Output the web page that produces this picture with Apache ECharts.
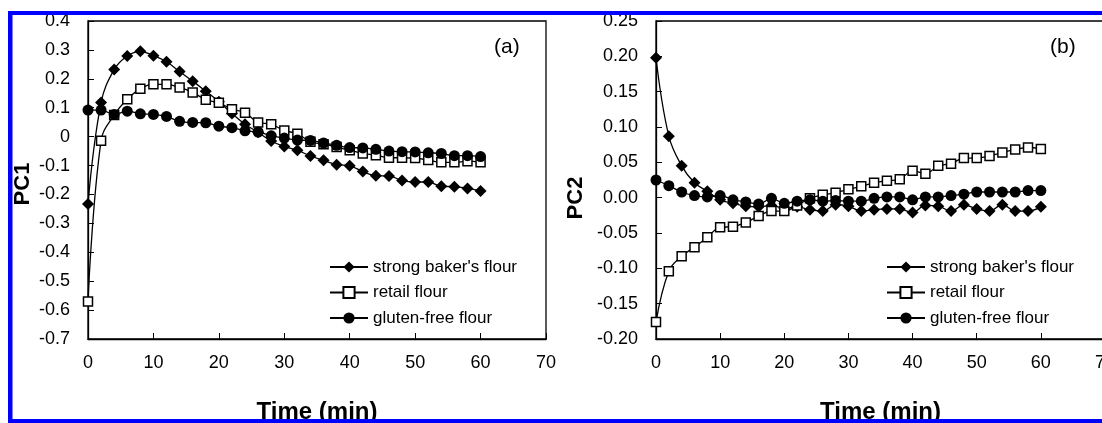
<!DOCTYPE html>
<html>
<head>
<meta charset="utf-8">
<script src="https://cdn.jsdelivr.net/npm/echarts@6/dist/echarts.min.js"></script>
<style>
html,body{margin:0;padding:0;background:#fff;}
#chart{width:1102px;height:423px;}
</style>
</head>
<body>
<div id="chart"></div>
<script>
const seriesNames = ["strong baker's flour", "retail flour", "gluten-free flour"];
const time = [0,2,4,6,8,10,12,14,16,18,20,22,24,26,28,30,32,34,36,38,40,42,44,46,48,50,52,54,56,58,60];
const xTickLabels = ['0','10','20','30','40','50','60','70'];
const pc1TickLabels = ['0.4','0.3','0.2','0.1','0','-0.1','-0.2','-0.3','-0.4','-0.5','-0.6','-0.7'];
const pc2TickLabels = ['0.25','0.20','0.15','0.10','0.05','0.00','-0.05','-0.10','-0.15','-0.20'];

const pc1Strong = [-0.233,0.118,0.232,0.279,0.295,0.280,0.259,0.225,0.192,0.157,0.121,0.080,0.043,0.015,-0.015,-0.034,-0.047,-0.067,-0.082,-0.097,-0.101,-0.121,-0.135,-0.136,-0.152,-0.157,-0.157,-0.172,-0.173,-0.179,-0.188];
const pc1Retail = [-0.570,-0.014,0.075,0.129,0.166,0.181,0.181,0.170,0.153,0.128,0.117,0.095,0.083,0.049,0.043,0.021,0.010,-0.018,-0.026,-0.036,-0.047,-0.058,-0.064,-0.073,-0.073,-0.074,-0.081,-0.089,-0.089,-0.085,-0.089];
const pc1Gluten = [0.092,0.092,0.077,0.088,0.079,0.077,0.070,0.053,0.049,0.048,0.036,0.031,0.020,0.016,0.003,-0.005,-0.012,-0.013,-0.022,-0.030,-0.038,-0.039,-0.044,-0.050,-0.052,-0.053,-0.056,-0.058,-0.066,-0.066,-0.069];

const pc2Strong = [0.198,0.087,0.045,0.021,0.009,-0.003,-0.008,-0.012,-0.013,-0.011,-0.015,-0.013,-0.017,-0.019,-0.010,-0.012,-0.019,-0.017,-0.016,-0.016,-0.021,-0.011,-0.012,-0.019,-0.010,-0.016,-0.019,-0.010,-0.019,-0.019,-0.013];
const pc2Retail = [-0.176,-0.104,-0.083,-0.070,-0.056,-0.042,-0.041,-0.035,-0.026,-0.019,-0.019,-0.011,-0.001,0.004,0.007,0.012,0.016,0.021,0.024,0.026,0.038,0.034,0.045,0.048,0.056,0.056,0.059,0.064,0.068,0.071,0.069];
const pc2Gluten = [0.025,0.017,0.008,0.003,0.001,0.003,-0.003,-0.006,-0.009,-0.001,-0.008,-0.005,-0.003,-0.005,-0.004,-0.005,-0.005,-0.001,0.001,0.001,-0.003,0.001,0.001,0.003,0.005,0.008,0.008,0.008,0.008,0.010,0.010];

const FONT = 'Liberation Sans, Arial, sans-serif';
const pairs = (ys) => time.map((t, i) => [t, ys[i]]);
const lookup = (labels, min, step) => (v) => labels[labels.length - 1 - Math.round((v - min) / step)];

const styles = [
  {symbol: 'diamond', symbolSize: 12, itemStyle: {color: '#000', borderWidth: 0}},
  {symbol: 'rect', symbolSize: 9, itemStyle: {color: '#fff', borderColor: '#000', borderWidth: 1.5}},
  {symbol: 'circle', symbolSize: 11, itemStyle: {color: '#000', borderWidth: 0}}
];

function mkSeries(idx, data) {
  return data.map((ys, k) => Object.assign({
    type: 'line', name: seriesNames[k], xAxisIndex: idx, yAxisIndex: idx,
    data: pairs(ys), smooth: 0.4, clip: false,
    lineStyle: {color: '#000', width: 1.3},
    emphasis: {disabled: true}, z: 2 + k
  }, styles[k]));
}

function xAx(idx) {
  return {
    type: 'value', gridIndex: idx, min: 0, max: 70, interval: 10,
    axisLine: {onZero: false, lineStyle: {color: '#000', width: 1.3}},
    axisTick: {inside: true, length: 6, lineStyle: {color: '#000'}},
    axisLabel: {margin: 15, color: '#000', fontSize: 18, fontFamily: FONT, formatter: (v) => xTickLabels[Math.round(v / 10)]},
    splitLine: {show: false},
    name: 'Time (min)', nameLocation: 'middle', nameGap: 61,
    nameTextStyle: {fontSize: 24, fontWeight: 'bold', color: '#000', fontFamily: FONT}
  };
}
function yAx(idx, min, max, step, labels, name, gap, pad) {
  return {
    type: 'value', gridIndex: idx, min: min, max: max, interval: step,
    axisLine: {show: true, onZero: false, lineStyle: {color: '#000', width: 1.3}},
    axisTick: {show: true, inside: true, length: 6, lineStyle: {color: '#000'}},
    axisLabel: {margin: 18, color: '#000', fontSize: 18, fontFamily: FONT, formatter: lookup(labels, min, step)},
    splitLine: {show: false},
    name: name, nameLocation: 'middle', nameGap: gap, nameRotate: 90,
    nameTextStyle: {fontSize: 22, fontWeight: 'bold', color: '#000', fontFamily: FONT, padding: pad}
  };
}
function legend(left) {
  return {
    data: seriesNames, orient: 'vertical', left: left, top: 258.5, padding: 0,
    itemWidth: 38, itemHeight: 14, itemGap: 8.5,
    textStyle: {fontSize: 17, color: '#000', fontFamily: FONT, lineHeight: 15},
    selectedMode: false
  };
}

const chart = echarts.init(document.getElementById('chart'), null, {renderer: 'canvas'});
chart.setOption({
  animation: false,
  backgroundColor: '#fff',
  grid: [
    {left: 88, top: 21, width: 458, height: 318, show: true, borderColor: '#000', borderWidth: 1.3, containLabel: false, outerBoundsMode: 'none'},
    {left: 656, top: 21, width: 449, height: 318, show: true, borderColor: '#000', borderWidth: 1.3, containLabel: false, outerBoundsMode: 'none'}
  ],
  xAxis: [xAx(0), xAx(1)],
  yAxis: [
    yAx(0, -0.7, 0.4, 0.1, pc1TickLabels, 'PC1', 54, [0, 8, 0, 0]),
    yAx(1, -0.2, 0.25, 0.05, pc2TickLabels, 'PC2', 69, [0, 36, 0, 0])
  ],
  legend: [legend(329), legend(886)],
  title: [
    {text: '(a)', left: 494, top: 37, padding: 0, textStyle: {fontSize: 21, fontWeight: 'normal', color: '#000', fontFamily: FONT}},
    {text: '(b)', left: 1050, top: 37, padding: 0, textStyle: {fontSize: 21, fontWeight: 'normal', color: '#000', fontFamily: FONT}}
  ],
  series: [].concat(mkSeries(0, [pc1Strong, pc1Retail, pc1Gluten]), mkSeries(1, [pc2Strong, pc2Retail, pc2Gluten])),
  graphic: [
    {type: 'rect', z: 100, shape: {x: 8, y: 11, width: 1094, height: 4}, style: {fill: '#0000ff'}},
    {type: 'rect', z: 100, shape: {x: 8, y: 11, width: 4.5, height: 412}, style: {fill: '#0000ff'}},
    {type: 'rect', z: 100, shape: {x: 8, y: 419, width: 1094, height: 4}, style: {fill: '#0000ff'}}
  ]
});
</script>
</body>
</html>
